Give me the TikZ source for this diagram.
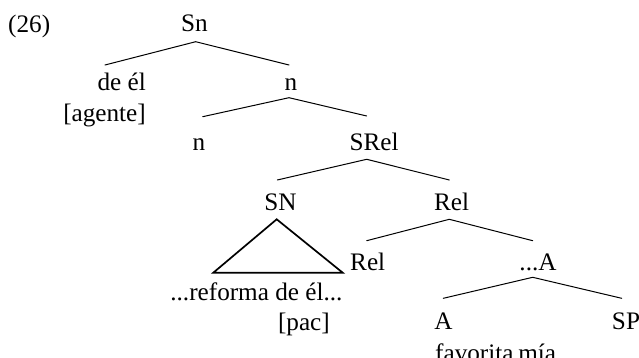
\documentclass[tikz,border=0pt]{standalone}
\usepackage{fontspec}
\setmainfont{Liberation Serif}
\begin{document}
\begin{tikzpicture}[x=1pt,y=-1pt,
  lbl/.style={inner sep=0pt,anchor=base,font=\fontsize{25.2}{29}\selectfont},
  branch/.style={line width=1pt,line cap=round},
  tri/.style={line width=1.7pt,line join=miter}]
\useasboundingbox (0,0) rectangle (639,358);
% labels
\node[lbl,anchor=base west] (num) at (8,32.5) {(26)};
\node[lbl] (Sn) at (194.5,32) {Sn};
\node[lbl,anchor=base east] (deel) at (146,91) {de él};
\node[lbl,anchor=base east] (agente) at (146,121.5) {[agente]};
\node[lbl] (n1) at (291,91) {n};
\node[lbl] (n2) at (199,150) {n};
\node[lbl] (SRel) at (374,151) {SRel};
\node[lbl] (SN) at (280.5,210) {SN};
\node[lbl] (Rel1) at (451.5,210) {Rel};
\node[lbl,anchor=base west] (Rel2) at (350,270) {Rel};
\node[lbl] (dA) at (538,270) {...A};
\node[lbl,anchor=base east] (reforma) at (342.7,300) {...reforma de él...};
\node[lbl,anchor=base east] (pac) at (330,330) {[pac]};
\node[lbl] (A) at (443.5,329) {A};
\node[lbl] (SP) at (626,329) {SP};
\node[lbl,anchor=base west] (fav) at (435,361) {favorita\hspace{-1.5pt} mía};
% branch points
\coordinate (Sn-t) at (195.7,41.7);
\coordinate (deel-t) at (105,65);
\coordinate (n1-t) at (289,65);
\coordinate (n1-b) at (289,97.7);
\coordinate (n2-t) at (202.7,116.7);
\coordinate (SRel-t) at (366.7,116);
\coordinate (SRel-b) at (366.7,159.3);
\coordinate (SN-t) at (277.3,180);
\coordinate (Rel1-t) at (449.3,180);
\coordinate (Rel1-b) at (449.3,219.3);
\coordinate (Rel2-t) at (366.7,240.7);
\coordinate (dA-t) at (532.7,240.7);
\coordinate (dA-b) at (532.7,277.3);
\coordinate (A-t) at (443.3,298.3);
\coordinate (SP-t) at (621.7,298.3);
\coordinate (SN-b) at (276.7,219.3);
\coordinate (triL) at (213.3,272.7);
\coordinate (triR) at (342.7,272.7);
% branches
\draw[branch] (deel-t) -- (Sn-t) -- (n1-t);
\draw[branch] (n2-t) -- (n1-b) -- (SRel-t);
\draw[branch] (SN-t) -- (SRel-b) -- (Rel1-t);
\draw[branch] (Rel2-t) -- (Rel1-b) -- (dA-t);
\draw[branch] (A-t) -- (dA-b) -- (SP-t);
\draw[tri] (SN-b) -- (triL) -- (triR) -- cycle;
\end{tikzpicture}
\end{document}
